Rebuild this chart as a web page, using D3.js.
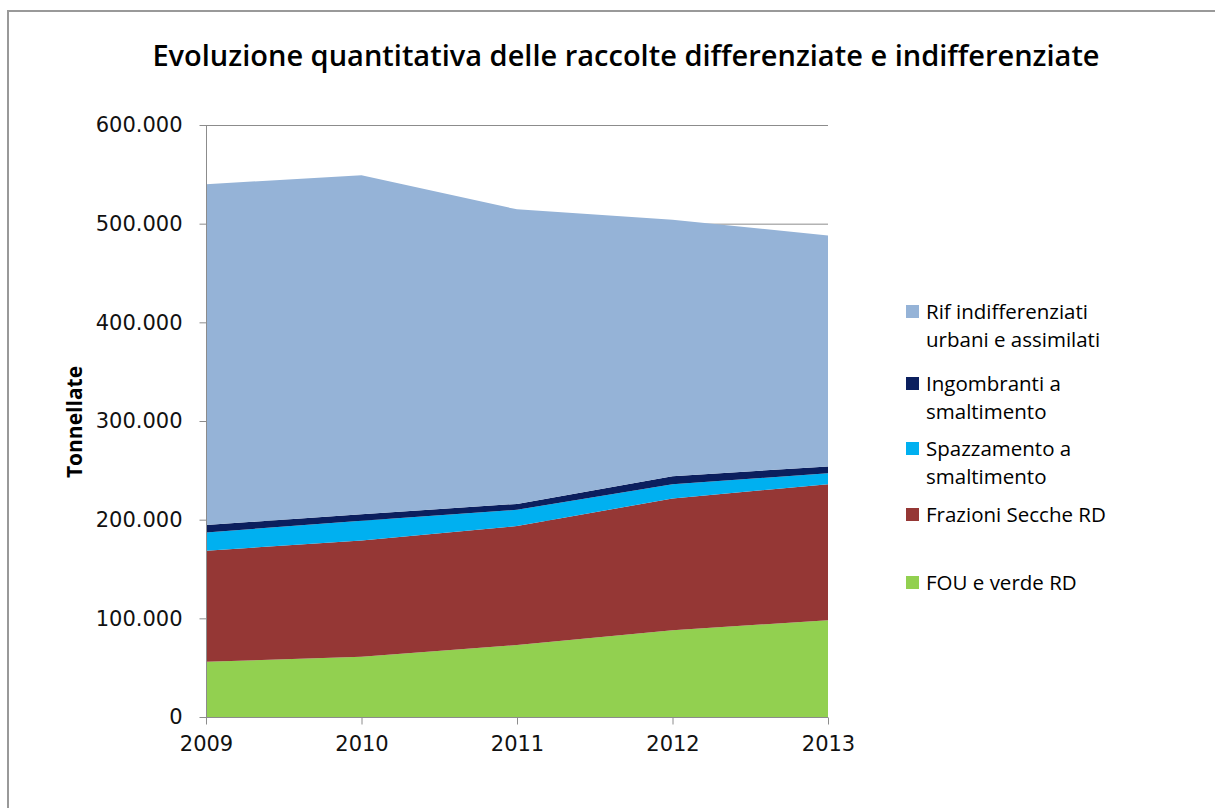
<!DOCTYPE html>
<html>
<head>
<meta charset="utf-8">
<script src="https://cdn.jsdelivr.net/npm/d3@7"></script>
<style>
  body { margin: 0; background: #fff; }
  svg { display: block; }
</style>
</head>
<body>
<div id="chart"></div>
<script>
(function(){
  var width = 1215;
  var height = 808;

  // data (tonnes)
  var years = ['2009', '2010', '2011', '2012', '2013'];
  var fou = [56000, 61000, 73000, 88000, 98000];
  var frazioniSecche = [112500, 118000, 120500, 133500, 138000];
  var spazzamento = [18500, 20000, 16500, 14500, 11000];
  var ingombranti = [7500, 6500, 6000, 8000, 7000];
  var rifIndiff = [345500, 343500, 298500, 260000, 234000];
  var yTicks = [0, 100000, 200000, 300000, 400000, 500000, 600000];

  var seriesNames = ['FOU e verde RD', 'Frazioni Secche RD', 'Spazzamento a smaltimento',
                     'Ingombranti a smaltimento', 'Rif indifferenziati urbani e assimilati'];
  var seriesValues = [fou, frazioniSecche, spazzamento, ingombranti, rifIndiff];
  var colors = ['#92d050', '#953735', '#00b0f0', '#0b1f5e', '#95b3d7'];

  var margin = {left: 206, right: 387, top: 125, bottom: 91};

  var svg = d3.select('#chart').append('svg')
      .attr('width', width)
      .attr('height', height);

  // outer frame (only top and left edges fall inside the picture)
  svg.append('path')
      .attr('d', 'M8,' + height + 'V11H' + width)
      .attr('fill', 'none')
      .attr('stroke', '#999')
      .attr('stroke-width', 2);

  var x = d3.scalePoint()
      .domain(years)
      .range([margin.left, width - margin.right]);

  var y = d3.scaleLinear()
      .domain([0, 600000])
      .range([height - margin.bottom, margin.top]);

  // table for the stack
  var table = years.map(function(yr, i){
    var row = {year: yr};
    seriesNames.forEach(function(n, k){ row[n] = seriesValues[k][i]; });
    return row;
  });

  var stacked = d3.stack().keys(seriesNames)(table);

  // gridlines behind the areas
  svg.append('g')
    .selectAll('line')
    .data(yTicks.slice(1))
    .enter()
    .append('line')
      .attr('x1', margin.left)
      .attr('x2', width - margin.right)
      .attr('y1', function(d){ return y(d) + 0.5; })
      .attr('y2', function(d){ return y(d) + 0.5; })
      .attr('stroke', '#8c8c8c')
      .attr('stroke-width', 1);

  var area = d3.area()
      .x(function(d){ return x(d.data.year); })
      .y0(function(d){ return y(d[0]); })
      .y1(function(d){ return y(d[1]); });

  svg.append('g')
    .selectAll('path')
    .data(stacked)
    .enter()
    .append('path')
      .attr('d', area)
      .attr('fill', function(d, i){ return colors[i]; });

  // axes
  var yAxis = d3.axisLeft(y)
      .tickValues(yTicks)
      .tickSize(7)
      .tickPadding(17)
      .tickFormat(function(d){ return d === 0 ? '0' : d3.format(',')(d).replace(/,/g, '.'); });

  var gy = svg.append('g')
      .attr('transform', 'translate(' + (margin.left + 0.5) + ',0)')
      .call(yAxis);

  var xAxis = d3.axisBottom(x)
      .tickSize(7)
      .tickPadding(11);

  var gx = svg.append('g')
      .attr('transform', 'translate(0,' + (height - margin.bottom + 0.5) + ')')
      .call(xAxis);

  [gx, gy].forEach(function(g){
    g.selectAll('path, line').attr('stroke', '#8c8c8c');
    g.select('.domain').attr('d', g === gx
      ? 'M' + margin.left + ',0H' + (width - margin.right)
      : 'M0,' + y(0) + 'V' + y(600000));
    g.selectAll('text')
      .attr('font-family', 'DejaVu Sans')
      .attr('font-size', '21px')
      .attr('fill', '#111');
  });
  gx.selectAll('text').attr('dy', '0.72em');

  // title
  svg.append('text')
      .text('Evoluzione quantitativa delle raccolte differenziate e indifferenziate')
      .attr('x', 626)
      .attr('y', 66)
      .attr('text-anchor', 'middle')
      .attr('font-family', 'Open Sans')
      .attr('font-weight', 600)
      .attr('font-size', '29px')
      .attr('fill', '#000');

  // y axis title
  svg.append('text')
      .text('Tonnellate')
      .attr('transform', 'translate(82,422) rotate(-90)')
      .attr('text-anchor', 'middle')
      .attr('font-family', 'Open Sans')
      .attr('font-weight', 700)
      .attr('font-size', '21px')
      .attr('fill', '#000');

  // legend, top entry first
  var legendLines = [
    ['Rif indifferenziati', 'urbani e assimilati'],
    ['Ingombranti a', 'smaltimento'],
    ['Spazzamento a', 'smaltimento'],
    ['Frazioni Secche RD'],
    ['FOU e verde RD']
  ];
  var legendY = [312, 384, 449, 515, 583];
  var legendColors = colors.slice().reverse();

  var lg = svg.append('g')
    .selectAll('g')
    .data(legendLines)
    .enter()
    .append('g')
      .attr('transform', function(d, i){ return 'translate(906,' + legendY[i] + ')'; });

  lg.append('rect')
      .attr('x', 0)
      .attr('y', -7)
      .attr('width', 13)
      .attr('height', 13)
      .attr('fill', function(d, i){ return legendColors[i]; });

  lg.append('text')
      .attr('font-family', 'Open Sans')
      .attr('font-size', '20.5px')
      .attr('fill', '#000')
    .selectAll('tspan')
    .data(function(d){ return d; })
    .enter()
    .append('tspan')
      .attr('x', 20)
      .attr('y', function(d, j){ return j * 28; })
      .attr('dy', '0.35em')
      .text(function(d){ return d; });

})();
</script>
</body>
</html>
